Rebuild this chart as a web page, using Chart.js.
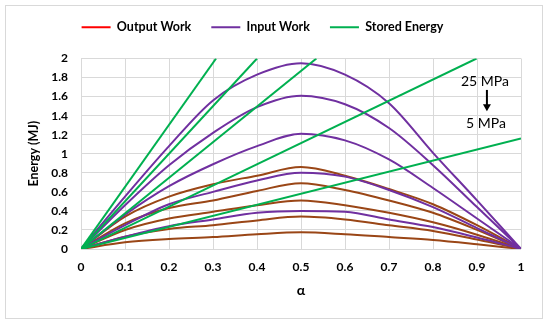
<!DOCTYPE html>
<html><head><meta charset="utf-8">
<script src="https://cdn.jsdelivr.net/npm/chart.js@4.4.1/dist/chart.umd.min.js"></script>
<style>html,body{margin:0;padding:0;background:#fff}#wrap{width:550px;height:327px;position:relative}</style>
</head><body><div id="wrap"><canvas id="c" width="550" height="327"></canvas></div>
<script>
// ---- data ----
const alpha = [0, 0.1, 0.2, 0.3, 0.4, 0.5, 0.6, 0.7, 0.8, 0.9, 1];
// Input Work (MJ), 25 -> 5 MPa
const input25 = [0, 0.55, 1.08, 1.56, 1.83, 1.95, 1.83, 1.53, 1.01, 0.51, 0];
const input20 = [0, 0.46, 0.88, 1.22, 1.49, 1.61, 1.52, 1.27, 0.88, 0.44, 0];
const input15 = [0, 0.36, 0.66, 0.89, 1.08, 1.21, 1.14, 0.94, 0.64, 0.32, 0];
const input10 = [0, 0.25, 0.47, 0.60, 0.72, 0.80, 0.76, 0.62, 0.44, 0.22, 0];
const input5  = [0, 0.13, 0.24, 0.31, 0.38, 0.40, 0.39, 0.31, 0.23, 0.12, 0];
// Output Work (MJ), 25 -> 5 MPa
const output25 = [0, 0.34, 0.55, 0.68, 0.77, 0.86, 0.77, 0.63, 0.47, 0.25, 0];
const output20 = [0, 0.27, 0.43, 0.51, 0.61, 0.69, 0.62, 0.51, 0.38, 0.20, 0];
const output15 = [0, 0.20, 0.32, 0.39, 0.46, 0.51, 0.46, 0.38, 0.28, 0.15, 0];
const output10 = [0, 0.13, 0.21, 0.25, 0.30, 0.34, 0.31, 0.25, 0.19, 0.10, 0];
const output5  = [0, 0.07, 0.105, 0.125, 0.155, 0.175, 0.155, 0.125, 0.095, 0.05, 0];
// Stored Energy: straight lines from origin, visible end points (alpha, MJ)
const storedEndAlpha  = [0.307, 0.400, 0.535, 0.899, 1.0];
const storedEndEnergy = [2, 2, 2, 2, 1.16];
// ticks / labels
const legendNames = ['Output Work', 'Input Work', 'Stored Energy'];
const legendColors = ['#FF0000', '#7030A0', '#00B050'];
const annotationTop = '25 MPa';
const annotationBottom = '5 MPa';

const lineColors = { output: '#9A4616', input: '#7030A0', stored: '#00B050' };
const toPts = arr => arr.map((v, i) => ({ x: alpha[i], y: v }));

const datasets = [];
[output25, output20, output15, output10, output5].forEach(a => datasets.push({
  label: 'Output Work', data: toPts(a), borderColor: lineColors.output, order: 2,
  cubicInterpolationMode: 'monotone'
}));
[input25, input20, input15, input10, input5].forEach(a => datasets.push({
  label: 'Input Work', data: toPts(a), borderColor: lineColors.input, order: 1,
  cubicInterpolationMode: 'monotone'
}));
storedEndAlpha.forEach((xa, i) => datasets.push({
  label: 'Stored Energy', data: [{ x: 0, y: 0 }, { x: xa, y: storedEndEnergy[i] }],
  borderColor: lineColors.stored, order: 0, tension: 0
}));

const FONT = 'Lato, "Open Sans", sans-serif';

const framePlugin = {
  id: 'frame',
  beforeDraw(chart) {
    const c = chart.ctx;
    c.save();
    c.fillStyle = '#fff';
    c.fillRect(0, 0, chart.width, chart.height);
    c.strokeStyle = '#d9d9d9';
    c.lineWidth = 1;
    c.strokeRect(5.5, 5.5, 537, 313);
    c.restore();
  }
};

const annotationPlugin = {
  id: 'mpa',
  afterDatasetsDraw(chart) {
    const c = chart.ctx, xs = chart.scales.x, ys = chart.scales.y;
    const x = xs.getPixelForValue(0.918);
    c.save();
    c.fillStyle = '#000';
    c.font = '14px ' + FONT;
    c.textAlign = 'center';
    c.textBaseline = 'middle';
    c.fillText(annotationTop, x, ys.getPixelForValue(1.757));
    c.fillText(annotationBottom, x + 1, ys.getPixelForValue(1.32));
    const ax = x + 2;
    const y1 = ys.getPixelForValue(1.67), y2 = ys.getPixelForValue(1.445);
    c.strokeStyle = '#000';
    c.lineWidth = 2;
    c.beginPath(); c.moveTo(ax, y1); c.lineTo(ax, y2 - 6); c.stroke();
    c.beginPath(); c.moveTo(ax - 4, y2 - 7); c.lineTo(ax + 4, y2 - 7); c.lineTo(ax, y2); c.closePath(); c.fill();
    c.restore();
  }
};

const tickFont = { family: FONT, size: 12, weight: 'bold' };
const fmt = v => String(Math.round(v * 10) / 10);

new Chart(document.getElementById('c'), {
  type: 'line',
  data: { datasets },
  options: {
    responsive: false,
    animation: false,
    devicePixelRatio: 1,
    layout: { padding: { left: 4, right: 29, top: 1, bottom: 18 } },
    elements: { point: { radius: 0 }, line: { borderWidth: 2 } },
    plugins: {
      tooltip: { enabled: false },
      title: { display: true, text: '', weight: 500, font: { size: 1, lineHeight: 1 }, padding: { top: 14, bottom: 0 } },
      legend: {
        position: 'top',
        labels: {
          boxWidth: 29, boxHeight: 2, padding: 20, color: '#000',
          font: { family: FONT, size: 12.5, weight: 'bold' },
          generateLabels: () => legendNames.map((t, i) => ({
            text: t, fillStyle: legendColors[i], strokeStyle: legendColors[i],
            lineWidth: 0, hidden: false, datasetIndex: i, fontColor: '#000'
          }))
        }
      }
    },
    scales: {
      x: {
        type: 'linear', min: 0, max: 1,
        ticks: { stepSize: 0.1, padding: 11, color: '#000', font: tickFont, callback: fmt, maxRotation: 0 },
        grid: { color: '#d9d9d9', drawTicks: false, lineWidth: 1 },
        border: { display: false },
        title: { display: true, text: 'α', color: '#000', font: { family: FONT, size: 14, weight: 'bold' }, padding: { top: 0, bottom: 10 } },
        afterFit: s => { s.height = 60; }
      },
      y: {
        type: 'linear', min: 0, max: 2,
        ticks: { stepSize: 0.2, padding: 13, color: '#000', font: tickFont, callback: fmt },
        grid: { color: '#d9d9d9', drawTicks: false, lineWidth: 1 },
        border: { display: false },
        title: { display: true, text: 'Energy (MJ)', color: '#000', font: { family: FONT, size: 12.5, weight: 'bold' }, padding: { top: 22, bottom: 0 } },
        afterFit: s => { s.width = 77; }
      }
    }
  },
  plugins: [framePlugin, annotationPlugin]
});
</script>
</body></html>
